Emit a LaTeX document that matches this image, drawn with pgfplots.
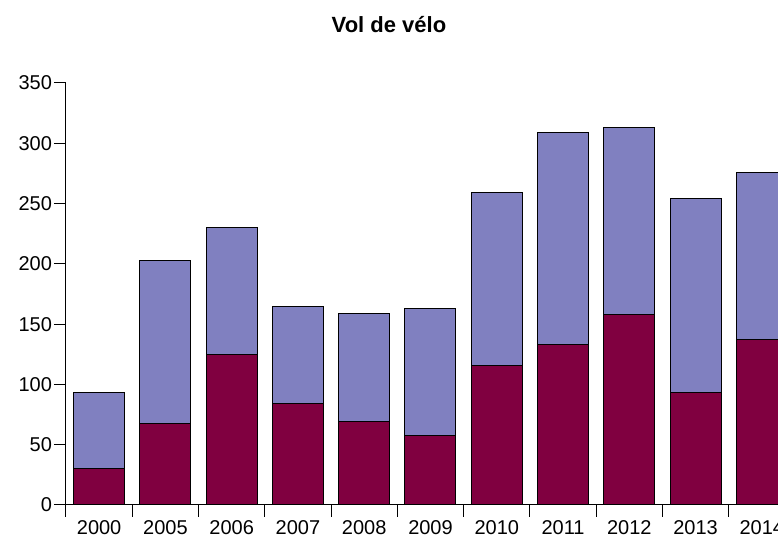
\documentclass[border=0pt]{standalone}
\usepackage{fontspec}
\setmainfont{Liberation Sans}
\usepackage{pgfplots}
\pgfplotsset{compat=1.18}
\definecolor{VBottom}{HTML}{800040}
\definecolor{VTop}{HTML}{8080C0}

\begin{document}
\begin{tikzpicture}[x=1pt,y=1pt]
% picture frame: 778x539 px at 0.5pt per px, axis origin at (66,505) px
\useasboundingbox (-33,-17) rectangle (356,252.5);
\clip (-33,-17) rectangle (356,252.5);
\begin{axis}[
  at={(0,0)},anchor=south west,
  scale only axis,width=364.5pt,height=211pt,
  ybar stacked,bar width=25.5pt,
  xmin=-0.5,xmax=10.5,ymin=0,ymax=350,
  axis x line=bottom,axis y line=left,
  axis line style={-,black,line width=0.5pt},
  xtick={-0.5,0.5,1.5,2.5,3.5,4.5,5.5,6.5,7.5,8.5,9.5,10.5},
  x tick label as interval,
  xticklabels={2000,2005,2006,2007,2008,2009,2010,2011,2012,2013,2014},
  ytick={0,50,...,350},
  tick align=outside,major tick length=6pt,
  tick style={black,line width=0.5pt},
  font=\fontsize{10}{12}\selectfont,
  /pgf/number format/assume math mode=true,
  xticklabel style={yshift=2pt},
  yticklabel style={xshift=2.5pt},
  clip=false,
]
\addplot[fill=VBottom,draw=black,line width=0.5pt] coordinates {(0,30)(1,68)(2,125)(3,84)(4,69)(5,58)(6,116)(7,133)(8,158)(9,93)(10,137)};
\addplot[fill=VTop,draw=black,line width=0.5pt] coordinates {(0,63)(1,135)(2,105)(3,81)(4,90)(5,105)(6,143)(7,176)(8,155)(9,161)(10,139)};
\end{axis}
\node[font=\bfseries\fontsize{11}{13}\selectfont] at (161.5,240) {Vol de vélo};
\end{tikzpicture}
\end{document}
